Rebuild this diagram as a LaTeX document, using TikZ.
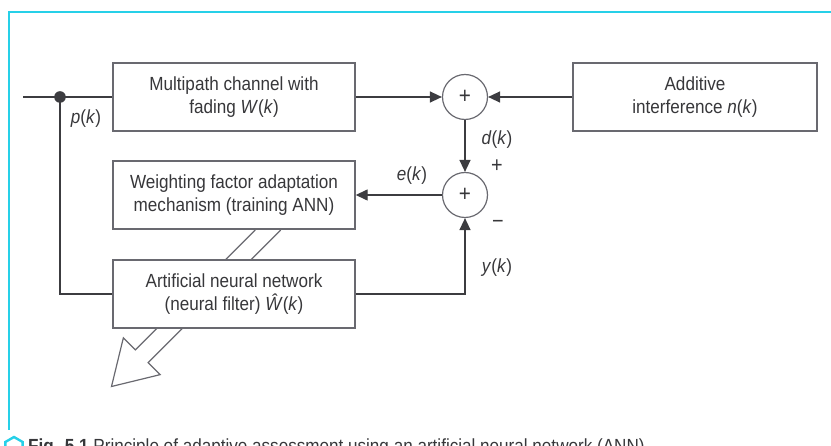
\documentclass[tikz,border=0pt]{standalone}
\usepackage{fontspec}
\setmainfont[FakeStretch=0.9]{Liberation Sans}
\usetikzlibrary{arrows.meta}
\definecolor{framecyan}{RGB}{38,208,232}
\definecolor{linegray}{RGB}{60,60,64}
\definecolor{boxgray}{RGB}{105,105,112}
\definecolor{textgray}{RGB}{55,55,58}
\begin{document}
\begin{tikzpicture}[x=1pt,y=-1pt,
  font=\fontsize{19}{23}\selectfont\color{textgray},
  blockbox/.style={draw=boxgray,line width=1.4pt,fill=white,minimum width=242pt,minimum height=68pt,inner sep=0pt,align=center},
  sumnode/.style={draw=boxgray,line width=1.2pt,circle,fill=white,minimum size=45pt,inner sep=0pt,font=\fontsize{23}{23}\selectfont\color{textgray}},
  conn/.style={draw=linegray,line width=1.4pt},
  arr/.style={conn,-{Triangle[length=12pt,width=11pt]}},
  lbl/.style={inner sep=0pt}]
\useasboundingbox (0,0) rectangle (831,446);
\clip (0,0) rectangle (831,446);
% frame
\draw[framecyan,line width=2.4pt] (831,12) -- (9,12) -- (9,430);
% hollow arrow (drawn first, covered by boxes)
\draw[boxgray,line width=1.2pt,line join=miter]
  (255.3,230) -- (135.4,349.9) -- (123.35,337.85) -- (111.5,386.5)
  -- (160.15,374.65) -- (148.1,362.6) -- (280.7,230);
% blocks
\node[blockbox] (chan) at (234,97) {Multipath channel with\\fading \textit{W}(\textit{k})};
\node[blockbox] (adapt) at (234,195) {Weighting factor adaptation\\mechanism (training ANN)};
\node[blockbox] (ann) at (234,294) {Artificial neural network\\(neural filter) \textit{\^{W}}(\textit{k})};
\node[blockbox,minimum width=244pt] (noise) at (695,97) {Additive\\interference \textit{n}(\textit{k})};
\node[sumnode] (s1) at (465,97) {+};
\node[sumnode] (s2) at (465,195) {+};
% input and branch point
\coordinate (in) at (23,97);
\coordinate (br) at (60,97);
\draw[conn] (in) -- (chan.west);
\fill[linegray] (br) circle (5.8pt);
\draw[conn] (br) |- (ann.west);
% signal flow
\draw[arr] (chan.east) -- (s1.west);
\draw[arr] (noise.west) -- (s1.east);
\draw[arr] (s1.south) -- (s2.north);
\draw[arr] (s2.west) -- (adapt.east);
\draw[arr] (ann.east) -| (s2.south);
% labels
\node[lbl] (lp) at (86,119) {\textit{p}(\textit{k})};
\node[lbl] (ld) at (497,140) {\textit{d}(\textit{k})};
\node[lbl,font=\fontsize{22}{22}\selectfont\color{textgray}] (lplus) at (497,166) {+};
\node[lbl] (le) at (412,176) {\textit{e}(\textit{k})};
\node[lbl,font=\fontsize{22}{22}\selectfont\color{textgray}] (lminus) at (498,224) {−};
\node[lbl] (ly) at (497,268) {\textit{y}(\textit{k})};
% caption (cut off at the bottom, as in the reference)
\draw[framecyan,line width=2.4pt] (14,447) ++(90:10) -- ++(210:10) -- ++(270:10) -- ++(330:10) -- ++(30:10) -- ++(90:10) -- cycle;
\node[anchor=base west,inner sep=0pt] (cap) at (28,453) {\textbf{Fig. 5.1} Principle of adaptive assessment using an artificial neural network (ANN)};
\end{tikzpicture}
\end{document}
